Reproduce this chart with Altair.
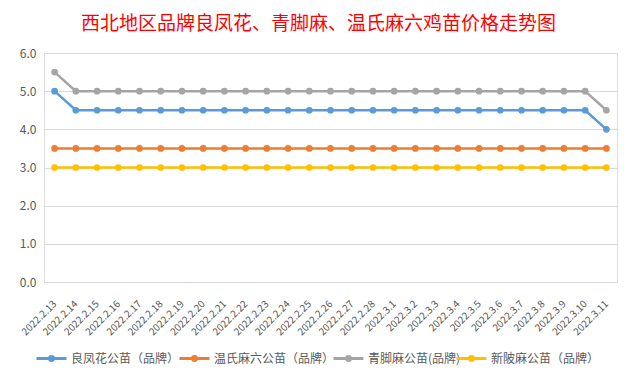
import altair as alt
import pandas as pd

dates = ["2022.2.13", "2022.2.14", "2022.2.15", "2022.2.16", "2022.2.17", "2022.2.18",
         "2022.2.19", "2022.2.20", "2022.2.21", "2022.2.22", "2022.2.23", "2022.2.24",
         "2022.2.25", "2022.2.26", "2022.2.27", "2022.2.28", "2022.3.1", "2022.3.2",
         "2022.3.3", "2022.3.4", "2022.3.5", "2022.3.6", "2022.3.7", "2022.3.8",
         "2022.3.9", "2022.3.10", "2022.3.11"]

series_names = ["良凤花公苗（品牌）", "温氏麻六公苗（品牌）", "青脚麻公苗(品牌)", "新陂麻公苗（品牌）"]
series_colors = ["#5B9BD5", "#ED7D31", "#A5A5A5", "#FFC000"]

liangfeng = [5.0, 4.5, 4.5, 4.5, 4.5, 4.5, 4.5, 4.5, 4.5, 4.5, 4.5, 4.5, 4.5, 4.5,
             4.5, 4.5, 4.5, 4.5, 4.5, 4.5, 4.5, 4.5, 4.5, 4.5, 4.5, 4.5, 4.0]
wenshi = [3.5, 3.5, 3.5, 3.5, 3.5, 3.5, 3.5, 3.5, 3.5, 3.5, 3.5, 3.5, 3.5, 3.5,
          3.5, 3.5, 3.5, 3.5, 3.5, 3.5, 3.5, 3.5, 3.5, 3.5, 3.5, 3.5, 3.5]
qingjiao = [5.5, 5.0, 5.0, 5.0, 5.0, 5.0, 5.0, 5.0, 5.0, 5.0, 5.0, 5.0, 5.0, 5.0,
            5.0, 5.0, 5.0, 5.0, 5.0, 5.0, 5.0, 5.0, 5.0, 5.0, 5.0, 5.0, 4.5]
xinpi = [3.0, 3.0, 3.0, 3.0, 3.0, 3.0, 3.0, 3.0, 3.0, 3.0, 3.0, 3.0, 3.0, 3.0,
         3.0, 3.0, 3.0, 3.0, 3.0, 3.0, 3.0, 3.0, 3.0, 3.0, 3.0, 3.0, 3.0]

title_text = "西北地区品牌良凤花、青脚麻、温氏麻六鸡苗价格走势图"
y_ticks = [0, 1, 2, 3, 4, 5, 6]

# legend entry positions (style, relative to plot area)
legend_x = [-9, 134, 288, 411]
LEGEND_Y = 289

FONT = "Noto Sans CJK SC"
GRAY_TXT = "#595959"
GRID = "#D9D9D9"

legend_symbol = "M-1,0H1M0.13,0A0.13,0.13,0,1,1,-0.13,0A0.13,0.13,0,1,1,0.13,0Z"

x_enc = alt.X("date:O", sort=dates, title=None,
              scale=alt.Scale(type="point", padding=0.5),
              axis=alt.Axis(labelAngle=-45, labelAlign="right", labelBaseline="middle",
                            labelPadding=20, ticks=False, domainColor=GRID,
                            labelColor=GRAY_TXT, labelFontSize=10, labelFont=FONT,
                            labelOverlap=False, grid=False))
y_enc = alt.Y("value:Q", title=None,
              scale=alt.Scale(domain=[0, 6], nice=False, zero=True),
              axis=alt.Axis(values=y_ticks, format=".1f", domain=False, ticks=False,
                            gridColor=GRID, labelColor=GRAY_TXT, labelFontSize=12,
                            labelFont=FONT, labelPadding=8))

layers = []
for name, color, vals, lx in zip(series_names, series_colors,
                                 [liangfeng, wenshi, qingjiao, xinpi], legend_x):
    sdf = pd.DataFrame({"date": dates, "value": vals, "series": name})
    layers.append(
        alt.Chart(sdf).mark_line(
            strokeWidth=2.5,
            point=alt.OverlayMarkDef(filled=True, size=45),
        ).encode(
            x=x_enc,
            y=y_enc,
            color=alt.Color("series:N",
                            scale=alt.Scale(domain=[name], range=[color]),
                            legend=alt.Legend(title=None, orient="none",
                                              direction="horizontal",
                                              legendX=lx, legendY=LEGEND_Y,
                                              symbolType=legend_symbol, symbolSize=900,
                                              symbolStrokeWidth=3, labelFont=FONT,
                                              labelFontSize=12, labelColor=GRAY_TXT,
                                              labelOffset=3, labelLimit=200)),
        )
    )

chart = alt.layer(*layers).resolve_scale(color="independent").properties(
    width=573,
    height=229,
    title=alt.TitleParams(title_text, font=FONT, fontSize=19, fontWeight="normal",
                          color="#FF0000", anchor="middle", dx=-12, offset=13),
    autosize=alt.AutoSizeParams(type="none"),
    padding={"left": 36, "top": 45, "right": 10, "bottom": 90},
).configure_view(stroke=None).configure(background="white")

chart.save("out.html", embed_options={"renderer": "svg", "actions": False})
